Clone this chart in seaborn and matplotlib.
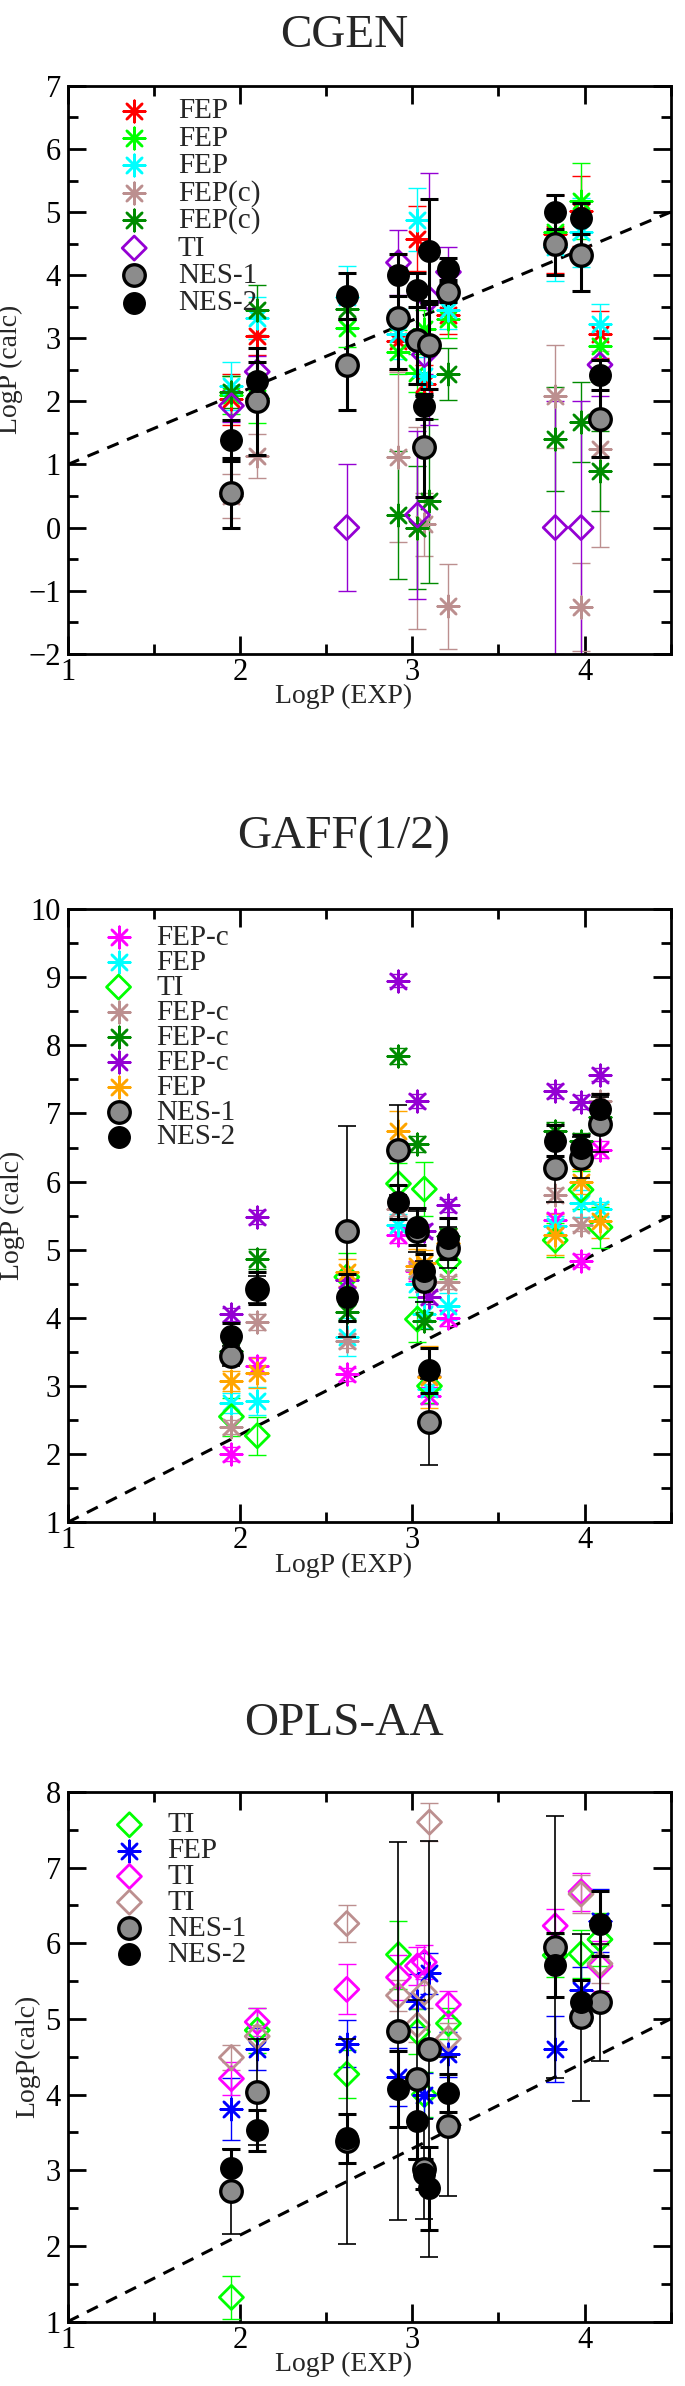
import numpy as np
import pandas as pd
import matplotlib
matplotlib.use("Agg")
import matplotlib.pyplot as plt
import seaborn as sns
from matplotlib.ticker import MultipleLocator

nan = np.nan

# experimental logP of the eleven compounds (x positions)
exp_logp = [1.95, 2.10, 2.62, 2.92, 3.03, 3.07, 3.10, 3.21, 3.83, 3.98, 4.09]

# ---- CGEN ----
cgen_fep_red = [2.03, 3.03, nan, 2.95, 4.58, 2.28, nan, 3.37, 4.65, 5.02, 3.06]
cgen_fep_red_err = [0.40, 0.30, nan, 0.45, 0.52, 0.30, nan, 0.30, 0.62, 0.55, 0.37]
cgen_fep_lime = [2.10, 2.05, 3.16, 2.78, 2.45, 3.15, nan, 3.30, 4.68, 5.18, 2.87]
cgen_fep_lime_err = [0.30, 0.40, 0.30, 0.35, 0.30, 0.30, nan, 0.30, 0.30, 0.60, 0.35]
cgen_fep_cyan = [2.25, 3.32, 3.65, 3.07, 4.88, 2.40, nan, 3.45, 4.45, 4.68, 3.22]
cgen_fep_cyan_err = [0.38, 0.33, 0.50, 0.40, 0.50, 0.30, nan, 0.30, 0.55, 0.55, 0.33]
cgen_fepc_brown = [0.50, 1.13, nan, 1.12, 0.00, 0.05, nan, -1.25, 2.08, -1.26, 1.25]
cgen_fepc_brown_err = [0.35, 0.35, nan, 1.35, 1.60, 0.50, nan, 0.68, 0.82, 0.70, 1.55]
cgen_fepc_green = [2.15, 3.45, 3.47, 0.20, 0.00, nan, 0.42, 2.43, 1.40, 1.67, 0.90]
cgen_fepc_green_err = [0.25, 0.40, 0.30, 1.02, 0.97, nan, 1.30, 0.41, 0.82, 0.63, 0.63]
cgen_ti = [1.93, 2.47, 0.00, 4.20, 0.20, 2.74, 3.62, 4.05, 0.00, 0.00, 2.58]
cgen_ti_err = [0.25, 0.25, 1.00, 0.52, 1.33, 0.30, 2.00, 0.40, 2.00, 2.00, 0.50]
cgen_nes1 = [0.55, 2.00, 2.58, 3.32, 2.97, 1.28, 2.89, 3.73, 4.50, 4.32, 1.72]
cgen_nes1_err = [0.55, 0.85, 0.72, 0.80, 0.70, 0.80, 0.70, 0.15, 0.50, 0.57, 0.60]
cgen_nes2 = [1.38, 2.33, 3.67, 4.00, 3.77, 1.92, 4.38, 4.10, 5.00, 4.90, 2.42]
cgen_nes2_err = [0.33, 0.30, 0.36, 0.33, 0.27, 0.20, 0.83, 0.18, 0.27, 0.25, 0.24]

# ---- GAFF(1/2) ----
gaff_fepc_magenta = [2.00, 3.30, 3.17, 5.22, 4.69, 4.50, 2.86, 4.00, 5.44, 4.84, 6.47]
gaff_fepc_magenta_err = [0.10, 0.12, 0.10, 0.12, 0.15, 0.12, 0.12, 0.12, 0.10, 0.10, 0.12]
gaff_fep_cyan = [2.75, 2.78, 3.72, 5.37, 4.50, 4.05, 2.95, 4.17, 5.35, 5.68, 5.60]
gaff_fep_cyan_err = [0.15, 0.20, 0.28, 0.15, 0.20, 0.20, 0.20, 0.20, 0.15, 0.20, 0.10]
gaff_ti = [2.55, 2.27, 4.60, 5.97, 3.98, 5.89, 3.00, 4.82, 5.14, 5.88, 5.33]
gaff_ti_err = [0.28, 0.28, 0.35, 0.30, 0.33, 0.40, 0.25, 0.25, 0.25, 0.28, 0.30]
gaff_fepc_brown = [2.40, 3.94, 3.66, 5.60, 4.70, 4.50, 3.15, 4.52, 5.80, 5.37, 7.18]
gaff_fepc_brown_err = [0.10, 0.12, 0.10, 0.10, 0.12, 0.10, 0.12, 0.10, 0.10, 0.10, 0.12]
gaff_fepc_green = [3.52, 4.86, 4.08, 7.84, 6.55, 3.96, nan, 5.20, 6.75, 6.60, 6.95]
gaff_fepc_green_err = [0.12, 0.15, 0.12, 0.12, 0.12, 0.12, nan, 0.12, 0.12, 0.12, 0.12]
gaff_fepc_violet = [4.05, 5.48, 4.55, 8.95, 7.18, 5.28, 4.30, 5.65, 7.33, 7.17, 7.57]
gaff_fepc_violet_err = [0.10, 0.10, 0.10, 0.10, 0.10, 0.10, 0.10, 0.10, 0.10, 0.10, 0.10]
gaff_fep_orange = [3.07, 3.19, 4.67, 6.75, 4.76, 4.80, 3.13, 5.10, 5.22, 6.00, 5.42]
gaff_fep_orange_err = [0.15, 0.22, 0.20, 0.28, 0.25, 0.20, 0.45, 0.20, 0.30, 0.18, 0.25]
gaff_nes1 = [3.44, 4.42, 5.27, 6.47, 5.27, 4.54, 2.47, 5.03, 6.20, 6.35, 6.84]
gaff_nes1_err = [0.15, 0.20, 1.55, 0.66, 0.30, 0.30, 0.63, 0.30, 0.50, 0.30, 0.40]
gaff_nes2 = [3.74, 4.44, 4.30, 5.70, 5.34, 4.69, 3.23, 5.17, 6.60, 6.50, 7.06]
gaff_nes2_err = [0.18, 0.23, 0.35, 0.25, 0.27, 0.25, 0.33, 0.30, 0.23, 0.18, 0.23]

# ---- OPLS-AA ----
opls_ti_lime = [1.32, 4.85, 4.27, 5.85, 4.83, 4.00, nan, 4.94, 5.84, 5.86, 6.05]
opls_ti_lime_err = [0.28, 0.30, 0.32, 0.45, 0.30, 0.30, nan, 0.20, 0.28, 0.32, 0.35]
opls_fep_blue = [3.81, 4.60, 4.67, 4.23, 5.24, 3.99, 5.60, 4.53, 4.60, 5.38, 6.30]
opls_fep_blue_err = [0.41, 0.28, 0.31, 0.38, 0.35, 0.30, 0.27, 0.30, 0.44, 0.30, 0.42]
opls_ti_magenta = [4.21, 4.96, 5.39, 5.55, 5.70, 5.75, nan, 5.19, 6.23, 6.68, 5.70]
opls_ti_magenta_err = [0.22, 0.18, 0.33, 0.30, 0.25, 0.22, nan, 0.18, 0.22, 0.25, 0.33]
opls_ti_brown = [4.49, 4.77, 6.26, 5.31, 4.92, 5.35, 7.60, 4.74, nan, 6.65, 5.73]
opls_ti_brown_err = [0.17, 0.15, 0.25, 0.20, 0.22, 0.20, 0.25, 0.20, nan, 0.25, 0.25]
opls_nes1 = [2.72, 4.04, 3.38, 4.84, 4.20, 3.02, 4.60, 3.58, 5.95, 5.02, 5.22]
opls_nes1_err = [0.56, 0.70, 1.35, 2.50, 1.05, 0.66, 2.75, 0.92, 1.73, 1.10, 0.77]
opls_nes2 = [3.03, 3.53, 3.42, 4.07, 3.65, 2.95, 2.76, 4.02, 5.71, 5.22, 6.26]
opls_nes2_err = [0.25, 0.27, 0.32, 0.50, 0.50, 0.20, 0.55, 0.25, 0.42, 0.30, 0.43]

# reference dashed lines (end points)
line_x = [1.0, 4.5]
cgen_line_y = [1.0, 5.0]
gaff_line_y = [1.0, 5.5]
opls_line_y = [1.0, 5.0]

STAR = (8, 2, 0)
RED, LIME, CYAN, BROWN = "#ff0000", "#00ff00", "#00ffff", "#bc8f8f"
GREEN4, VIOLET, ORANGE = "#008b00", "#9400d3", "#ffa500"
MAGENTA, BLUE = "#ff00ff", "#0000ff"

sns.set_theme(style="ticks")
plt.rcParams["font.family"] = ["Liberation Serif", "DejaVu Serif"]
plt.rcParams["axes.linewidth"] = 2.0

# titles and x labels sit at the centre of the page, not of the axes
TEXT_X = 0.458


def draw_set(ax, y, err, color, kind, label, elw=1.0, z=2):
    df = pd.DataFrame({"x": exp_logp, "y": y, "err": err}).dropna(subset=["y"])
    ecolor = "black" if kind.startswith("nes") else color
    ax.errorbar(df["x"], df["y"], yerr=df["err"], fmt="none", ecolor=ecolor,
                elinewidth=elw, capsize=6.5, capthick=elw, zorder=z)
    if kind == "star":
        sns.scatterplot(data=df, x="x", y="y", marker=STAR, s=240, color=color,
                        linewidth=1.8, ax=ax, label=label, zorder=z + 0.5)
    elif kind == "diamond":
        sns.scatterplot(data=df, x="x", y="y", marker="D", s=150, facecolor="none",
                        edgecolor=color, linewidth=2.0, ax=ax, label=label, zorder=z + 0.5)
    elif kind == "nes1":
        sns.scatterplot(data=df, x="x", y="y", marker="o", s=240, facecolor="#8c8c8c",
                        edgecolor="black", linewidth=2.4, ax=ax, label=label, zorder=z + 0.5)
    else:
        sns.scatterplot(data=df, x="x", y="y", marker="o", s=240, color="black",
                        edgecolor="black", linewidth=1.0, ax=ax, label=label, zorder=z + 0.5)


def style_axes(ax, ylo, yhi, title, ylabel, line_y, title_pad, leg_anchor, leg_space, leg_textpad):
    sns.lineplot(x=line_x, y=line_y, ax=ax, color="black", linewidth=2.2,
                 linestyle=(0, (4, 3)), zorder=1)
    ax.set_xlim(1, 4.5)
    ax.set_ylim(ylo, yhi)
    ax.xaxis.set_major_locator(MultipleLocator(1))
    ax.xaxis.set_minor_locator(MultipleLocator(0.5))
    ax.yaxis.set_major_locator(MultipleLocator(1))
    ax.yaxis.set_minor_locator(MultipleLocator(0.5))
    ax.tick_params(which="both", direction="in", top=True, right=True, width=2.0,
                   labelsize=22, colors="black")
    ax.tick_params(axis="x", pad=3)
    ax.tick_params(axis="y", pad=5)
    ax.tick_params(which="major", length=13)
    ax.tick_params(which="minor", length=7)
    ax.set_title(title, fontsize=34, pad=title_pad, x=TEXT_X)
    ax.set_xlabel("LogP (EXP)", fontsize=20, labelpad=-2)
    ax.xaxis.label.set_x(TEXT_X)
    ax.set_ylabel(ylabel, fontsize=20, labelpad=4)
    for s in ax.spines.values():
        s.set_color("black")
    ax.legend(loc="upper left", bbox_to_anchor=leg_anchor, frameon=False, fontsize=21,
              labelspacing=leg_space, handletextpad=leg_textpad, borderaxespad=0,
              borderpad=0, handlelength=1.0)


fig = plt.figure(figsize=(6.85, 23.86), dpi=100)
ax1 = fig.add_axes([0.099, 0.726, 0.880, 0.238])
ax2 = fig.add_axes([0.099, 0.362, 0.880, 0.257])
ax3 = fig.add_axes([0.099, 0.027, 0.880, 0.222])

# CGEN
draw_set(ax1, cgen_fep_red, cgen_fep_red_err, RED, "star", "FEP")
draw_set(ax1, cgen_fep_lime, cgen_fep_lime_err, LIME, "star", "FEP")
draw_set(ax1, cgen_fep_cyan, cgen_fep_cyan_err, CYAN, "star", "FEP")
draw_set(ax1, cgen_fepc_brown, cgen_fepc_brown_err, BROWN, "star", "FEP(c)")
draw_set(ax1, cgen_fepc_green, cgen_fepc_green_err, GREEN4, "star", "FEP(c)")
draw_set(ax1, cgen_ti, cgen_ti_err, VIOLET, "diamond", "TI")
draw_set(ax1, cgen_nes1, cgen_nes1_err, "black", "nes1", "NES-1", elw=2.2, z=3)
draw_set(ax1, cgen_nes2, cgen_nes2_err, "black", "nes2", "NES-2", elw=2.2, z=3)
style_axes(ax1, -2, 7, "CGEN", "LogP (calc)", cgen_line_y, 28,
           (0.086, 0.979), 0.03, 1.0)

# GAFF(1/2)
draw_set(ax2, gaff_fepc_magenta, gaff_fepc_magenta_err, MAGENTA, "star", "FEP-c")
draw_set(ax2, gaff_fep_cyan, gaff_fep_cyan_err, CYAN, "star", "FEP")
draw_set(ax2, gaff_ti, gaff_ti_err, LIME, "diamond", "TI")
draw_set(ax2, gaff_fepc_brown, gaff_fepc_brown_err, BROWN, "star", "FEP-c")
draw_set(ax2, gaff_fepc_green, gaff_fepc_green_err, GREEN4, "star", "FEP-c")
draw_set(ax2, gaff_fepc_violet, gaff_fepc_violet_err, VIOLET, "star", "FEP-c")
draw_set(ax2, gaff_fep_orange, gaff_fep_orange_err, ORANGE, "star", "FEP")
draw_set(ax2, gaff_nes1, gaff_nes1_err, "black", "nes1", "NES-1", elw=1.2, z=3)
draw_set(ax2, gaff_nes2, gaff_nes2_err, "black", "nes2", "NES-2", elw=2.2, z=3)
style_axes(ax2, 1, 10, "GAFF(1/2)", "LogP (calc)", gaff_line_y, 44,
           (0.060, 0.975), -0.05, 0.8)

# OPLS-AA
draw_set(ax3, opls_ti_lime, opls_ti_lime_err, LIME, "diamond", "TI")
draw_set(ax3, opls_fep_blue, opls_fep_blue_err, BLUE, "star", "FEP")
draw_set(ax3, opls_ti_magenta, opls_ti_magenta_err, MAGENTA, "diamond", "TI")
draw_set(ax3, opls_ti_brown, opls_ti_brown_err, BROWN, "diamond", "TI")
draw_set(ax3, opls_nes1, opls_nes1_err, "black", "nes1", "NES-1", elw=1.2, z=3)
draw_set(ax3, opls_nes2, opls_nes2_err, "black", "nes2", "NES-2", elw=2.2, z=3)
style_axes(ax3, 1, 8, "OPLS-AA", "LogP(calc)", opls_line_y, 41,
           (0.078, 0.962), -0.02, 0.8)

fig.savefig("out.png", dpi=100, facecolor="white")
